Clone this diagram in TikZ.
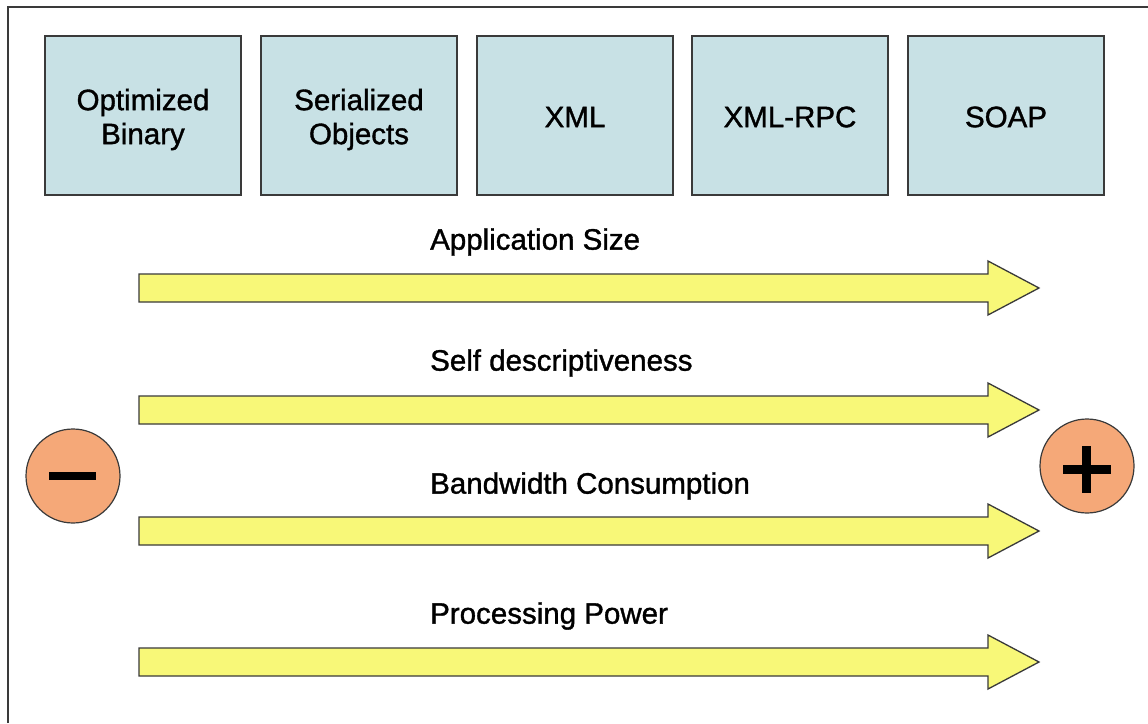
\documentclass[tikz,border=0pt]{standalone}
\usepackage{fontspec}
\setmainfont{Liberation Sans}
\definecolor{boxfill}{HTML}{C8E1E5}
\definecolor{arrowfill}{HTML}{F8F878}
\definecolor{signfill}{HTML}{F5A878}
\definecolor{edge}{HTML}{3A3A3A}
\newcommand{\heavy}{\addfontfeatures{FakeBold=1.2}}
\tikzset{
  format/.style={draw=edge, line width=1.3pt, fill=boxfill, minimum width=196pt,
    minimum height=159pt, inner sep=0pt},
  formattext/.style={inner sep=0pt, align=center,
    font=\fontsize{29.5}{34}\selectfont\heavy},
  flow/.style={draw=edge, line width=1.3pt, fill=arrowfill, line join=miter},
  caption/.style={anchor=west, inner sep=0pt, font=\fontsize{29.5}{34}\selectfont\heavy},
  sign/.style={circle, draw=edge, line width=1.2pt, fill=signfill, minimum size=94pt, inner sep=0pt},
}
\begin{document}
\begin{tikzpicture}[x=1pt, y=-1pt]
  \useasboundingbox (0,0) rectangle (1148,723);
  \fill[white] (0,0) rectangle (1148,723);
  % frame
  \draw[edge, line width=2pt] (8,723) -- (8,7) -- (1148,7);

  % data formats
  \foreach \x/\name/\txt/\dy in {143/bin/{Optimized\\Binary}/4,
                                359/ser/{Serialized\\Objects}/4,
                                575/xml/XML/1.5,
                                790/rpc/XML-RPC/1.5,
                                1006/soap/SOAP/1.5}{
    \node[format] (\name) at (\x,115.5) {};
    \node[formattext] (\name-t) at ([yshift=-\dy pt]\name.center) {\txt};
  }

  % trend arrows with captions
  \foreach \y/\name/\txt/\ty in {288/size/Application Size/242,
                                  410/self/Self descriptiveness/363,
                                  531/band/Bandwidth Consumption/486,
                                  662/cpu/Processing Power/616}{
    \node[caption] (\name) at (430,\ty) {\txt};
    \draw[flow] (139,\y-14) -- (988,\y-14) -- (988,\y-27) -- (1039,\y)
      -- (988,\y+27) -- (988,\y+14) -- (139,\y+14) -- cycle;
  }

  % less / more
  \node[sign] (minus) at (73,476) {};
  \fill (49,472) rectangle (96,480);
  \node[sign] (plus) at (1087,466) {};
  \fill (1063,465) rectangle (1111,474);
  \fill (1082,446) rectangle (1091,493);
\end{tikzpicture}
\end{document}
